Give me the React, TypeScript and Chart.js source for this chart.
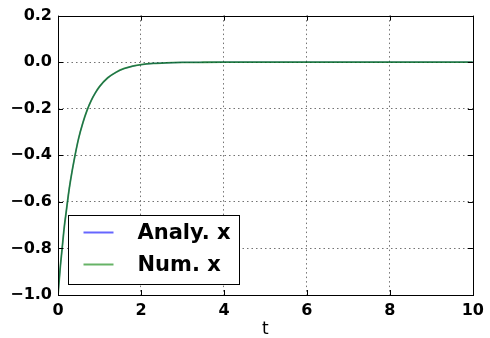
import React, { useEffect, useRef } from "react";
import { Chart, registerables } from "chart.js";

Chart.register(...registerables);

const tValues = [0, 0.05, 0.1, 0.15, 0.2, 0.25, 0.3, 0.4, 0.5, 0.6, 0.7, 0.8, 0.9, 1.0, 1.2, 1.4, 1.6, 1.8, 2.0, 2.3, 2.6, 3.0, 3.5, 4, 5, 6, 7, 8, 9, 10];
const analyX = [-1.0, -0.89, -0.8, -0.71, -0.64, -0.57, -0.51, -0.41, -0.325, -0.26, -0.207, -0.165, -0.132, -0.105, -0.067, -0.043, -0.027, -0.017, -0.011, -0.0056, -0.0029, -0.0012, -0.0004, -0.0001, 0, 0, 0, 0, 0, 0];
const numX = [-1.0, -0.89, -0.8, -0.71, -0.64, -0.57, -0.51, -0.41, -0.325, -0.26, -0.207, -0.165, -0.132, -0.105, -0.067, -0.043, -0.027, -0.017, -0.011, -0.0056, -0.0029, -0.0012, -0.0004, -0.0001, 0, 0, 0, 0, 0, 0];
const seriesLabels = ["Analy. x", "Num. x"];
const xTicks = [0, 2, 4, 6, 8, 10];
const yTicks = [-1.0, -0.8, -0.6, -0.4, -0.2, 0.0, 0.2];

const FONT = "'DejaVu Sans', sans-serif";
const legendColors = ["rgba(0,0,255,0.6)", "rgba(0,128,0,0.6)"];

const fmtY = (v: number) => {
  if (Math.abs(v) < 1e-9) return "0.0";
  return (v < 0 ? "\u2212" : "") + Math.abs(v).toFixed(1);
};

const framePlugin = {
  id: "frame",
  afterDatasetsDraw(chart: any) {
    const { ctx, chartArea: a, scales } = chart;
    ctx.save();
    ctx.strokeStyle = "#000";
    ctx.lineWidth = 1;
    const tl = 5;
    ctx.beginPath();
    xTicks.forEach((v) => {
      const x = Math.round(scales.x.getPixelForValue(v)) + 0.5;
      ctx.moveTo(x, a.bottom);
      ctx.lineTo(x, a.bottom - tl);
      ctx.moveTo(x, a.top);
      ctx.lineTo(x, a.top + tl);
    });
    yTicks.forEach((v) => {
      const y = Math.round(scales.y.getPixelForValue(v)) + 0.5;
      ctx.moveTo(a.left, y);
      ctx.lineTo(a.left + tl, y);
      ctx.moveTo(a.right, y);
      ctx.lineTo(a.right - tl, y);
    });
    ctx.stroke();
    ctx.strokeRect(Math.round(a.left) + 0.5, Math.round(a.top) + 0.5, Math.round(a.right - a.left), Math.round(a.bottom - a.top));

    // legend
    const bx = Math.round(a.left) + 10.5;
    const bw = 171;
    const bh = 69;
    const by = Math.round(a.bottom) - 10.5 - bh;
    ctx.fillStyle = "#fff";
    ctx.fillRect(bx, by, bw, bh);
    ctx.strokeRect(bx, by, bw, bh);
    ctx.font = `bold 21px ${FONT}`;
    ctx.textBaseline = "middle";
    chart.data.datasets.forEach((ds: any, i: number) => {
      const y = by + 17 + i * 32;
      ctx.strokeStyle = legendColors[i];
      ctx.lineWidth = 2;
      ctx.beginPath();
      ctx.moveTo(bx + 15, y);
      ctx.lineTo(bx + 45, y);
      ctx.stroke();
      ctx.fillStyle = "#000";
      ctx.fillText(ds.label, bx + 69, y + 1);
    });
    ctx.restore();
  },
};

export default function App() {
  const ref = useRef<HTMLCanvasElement>(null);
  useEffect(() => {
    document.body.style.margin = "0";
    const chart = new Chart(ref.current!, {
      type: "line",
      data: {
        labels: tValues,
        datasets: [
          {
            label: seriesLabels[0],
            data: tValues.map((t, i) => ({ x: t, y: analyX[i] })),
            borderColor: "rgba(0,0,255,0.6)",
            borderWidth: 1.2,
            pointRadius: 0,
            cubicInterpolationMode: "monotone",
            order: 2,
          },
          {
            label: seriesLabels[1],
            data: tValues.map((t, i) => ({ x: t, y: numX[i] })),
            borderColor: "rgba(0,120,0,0.72)",
            borderWidth: 1.8,
            pointRadius: 0,
            cubicInterpolationMode: "monotone",
            order: 1,
          },
        ],
      },
      options: {
        animation: false,
        responsive: false,
        maintainAspectRatio: false,
        layout: { padding: { top: 15, right: 13, left: 0, bottom: 0 } },
        plugins: { legend: { display: false }, tooltip: { enabled: false } },
        scales: {
          x: {
            type: "linear",
            min: 0,
            max: 10,
            afterBuildTicks: (s: any) => {
              s.ticks = xTicks.map((v) => ({ value: v }));
            },
            afterFit: (s: any) => {
              s.height = 43;
            },
            ticks: {
              color: "#000",
              font: { family: FONT, size: 16, weight: "bold" },
              padding: 6,
              maxRotation: 0,
            },
            grid: {
              color: (c: any) => (c.tick && (c.tick.value === 0 || c.tick.value === 10) ? "rgba(0,0,0,0)" : "rgba(0,0,0,0.55)"),
              lineWidth: 1,
              drawTicks: false,
            },
            border: { display: false, dash: [1.5, 3] },
            title: {
              display: true,
              text: "t",
              color: "#000",
              font: { family: FONT, size: 17, lineHeight: 1 },
              padding: { top: 0, bottom: 0 },
            },
          },
          y: {
            type: "linear",
            min: -1.0,
            max: 0.2,
            afterBuildTicks: (s: any) => {
              s.ticks = yTicks.map((v) => ({ value: v }));
            },
            afterFit: (s: any) => {
              s.width = 58;
            },
            ticks: {
              color: "#000",
              font: { family: FONT, size: 16, weight: "bold" },
              padding: 6,
              callback: (v: any) => fmtY(Number(v)),
            },
            grid: {
              color: (c: any) => (c.tick && (Math.abs(c.tick.value - 0.2) < 1e-9 || Math.abs(c.tick.value + 1) < 1e-9) ? "rgba(0,0,0,0)" : "rgba(0,0,0,0.55)"),
              lineWidth: 1,
              drawTicks: false,
            },
            border: { display: false, dash: [1.5, 3] },
          },
        },
      } as any,
      plugins: [framePlugin],
    });
    return () => chart.destroy();
  }, []);
  return (
    <div style={{ width: 490, height: 338 }}>
      <canvas ref={ref} width={490} height={338} style={{ display: "block" }} />
    </div>
  );
}
